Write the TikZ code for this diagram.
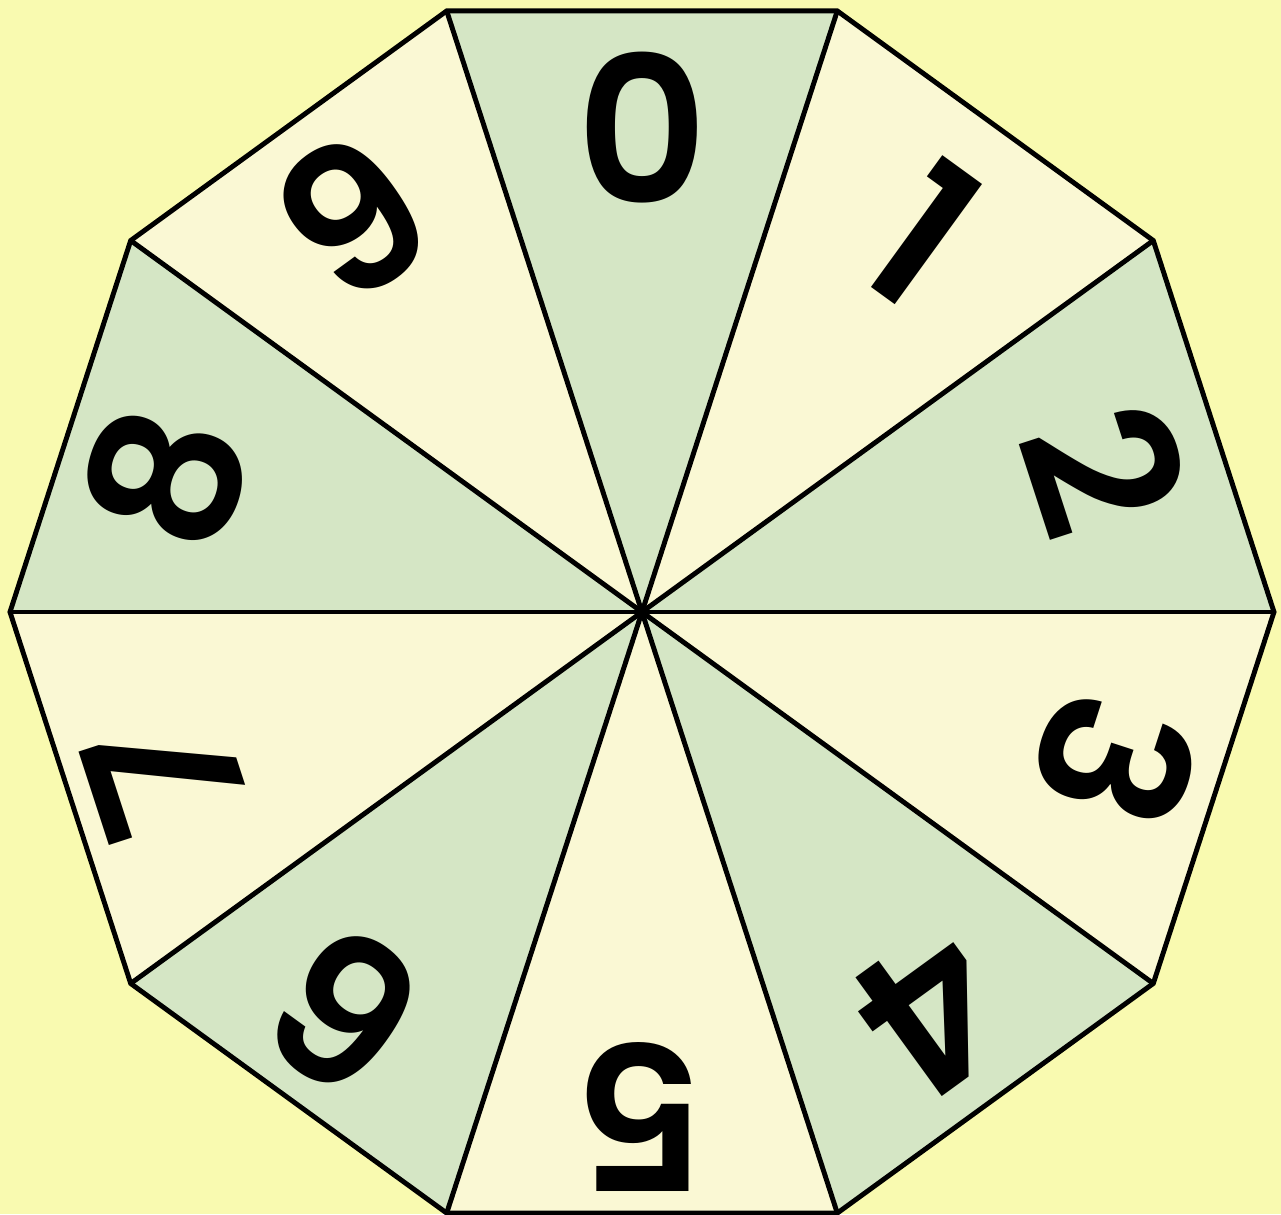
\documentclass[tikz,border=0pt]{standalone}
\usepackage{fontspec}
\newfontfamily\cifras{Poppins SemiBold}
\definecolor{fondo}{RGB}{249,250,176}
\definecolor{claro}{RGB}{250,248,212}
\definecolor{verde}{RGB}{213,230,197}
\tikzset{
  linea/.style={black,line width=1.4pt,line join=miter},
  cifra/.style={font=\cifras\fontsize{58}{58}\selectfont,inner sep=0pt}
}
\begin{document}
\begin{tikzpicture}
    % Ruleta decagonal con las diez cifras.
    \fill[fondo] (-6.42,-6.02) rectangle (6.39,6.12);
    \useasboundingbox (-6.42,-6.02) rectangle (6.39,6.12);
    \coordinate (c) at (0,0);
    \foreach \i in {0,...,9}
        \coordinate (v\i) at ({36*\i}:6.32);

    \foreach \i/\j/\col in {0/1/verde,1/2/claro,2/3/verde,3/4/claro,4/5/verde,
                             5/6/claro,6/7/verde,7/8/claro,8/9/verde,9/0/claro}
        \fill[\col] (c) -- (v\i) -- (v\j) -- cycle;

    \foreach \i in {0,...,9}
        \draw[linea] (c) -- (v\i);
    \draw[linea] (v0) -- (v1) -- (v2) -- (v3) -- (v4) -- (v5) -- (v6) -- (v7) -- (v8) -- (v9) -- cycle;

    \foreach \k/\a/\r in {0/90/4.84,1/53.4/4.72,2/17.2/4.85,3/-17.5/4.96,4/-54/4.95,
                          5/-90/5.05,6/-126.6/4.98,7/-161/5.05,8/164.2/4.95,9/126.3/4.90}
        \node[cifra,rotate={-36*\k}] (d\k) at (\a:\r) {\k};
\end{tikzpicture}
\end{document}
